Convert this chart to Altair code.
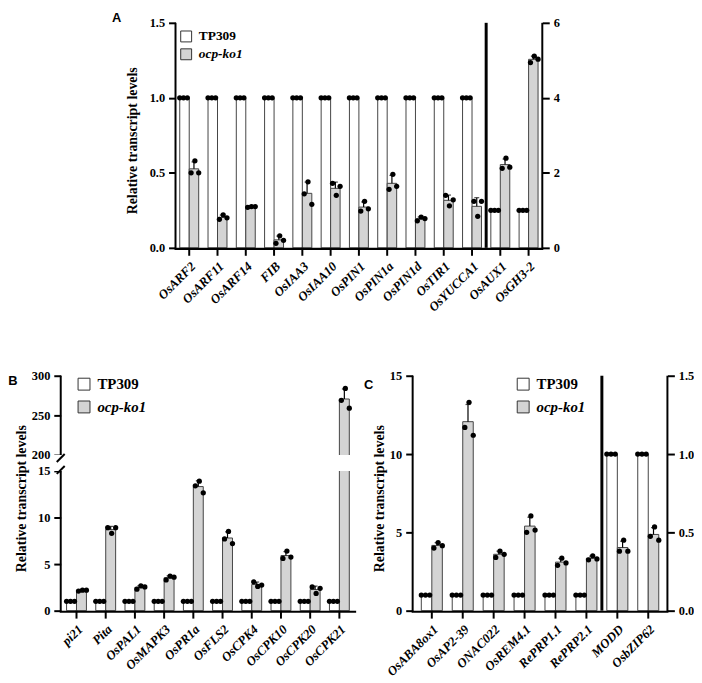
import altair as alt
import pandas as pd

SERIF = "Liberation Serif"
SANS = "Liberation Sans"

GENOTYPES = ["TP309", "ocp-ko1"]
BAR_FILLS = ["#ffffff", "#d4d4d4"]
REP_SLOTS = ["c1", "c2", "c3", "k1", "k2", "k3"]
CONTROL_REPS = [1.0, 1.0, 1.0]

# ---------------- Panel A ----------------
A_LEFT_GENES = ["OsARF2", "OsARF11", "OsARF14", "FIB", "OsIAA3", "OsIAA10",
                "OsPIN1", "OsPIN1a", "OsPIN1d", "OsTIR1", "OsYUCCA1"]
A_LEFT_KO = [[0.50, 0.58, 0.50], [0.19, 0.22, 0.20], [0.27, 0.275, 0.275],
             [0.03, 0.08, 0.05], [0.36, 0.44, 0.29], [0.43, 0.35, 0.41],
             [0.245, 0.31, 0.26], [0.39, 0.49, 0.41], [0.18, 0.205, 0.195],
             [0.35, 0.28, 0.32], [0.31, 0.21, 0.31]]
A_RIGHT_GENES = ["OsAUX1", "OsGH3-2"]
A_RIGHT_KO = [[2.12, 2.39, 2.15], [4.94, 5.11, 5.03]]
A_LEFT_TICKS = [0, 0.5, 1.0, 1.5]
A_RIGHT_TICKS = [0, 2, 4, 6]

# ---------------- Panel B ----------------
B_GENES = ["pi21", "Pita", "OsPAL1", "OsMAPK3", "OsPR1a", "OsFLS2",
           "OsCPK4", "OsCPK10", "OsCPK20", "OsCPK21"]
B_KO = [[2.1, 2.2, 2.2], [8.9, 8.3, 8.9], [2.3, 2.65, 2.55], [3.3, 3.7, 3.6],
        [13.4, 13.9, 12.65], [7.7, 8.5, 7.2], [3.1, 2.6, 2.75],
        [5.6, 6.4, 5.75], [2.55, 1.85, 2.4], [269, 284, 259]]
B_TICKS = [0, 5, 10, 15, 200, 250, 300]
B_SEGMENTS = [0, 15, 200, 300]

# ---------------- Panel C ----------------
C_LEFT_GENES = ["OsABA8ox1", "OsAP2-39", "ONAC022", "OsREM4.1", "RePRP1.1", "RePRP2.1"]
C_LEFT_KO = [[4.0, 4.35, 4.15], [11.7, 13.3, 11.2], [3.4, 3.8, 3.6],
             [5.0, 6.05, 5.15], [2.9, 3.35, 3.05], [3.25, 3.5, 3.3]]
C_RIGHT_GENES = ["MODD", "OsbZIP62"]
C_RIGHT_KO = [[0.38, 0.45, 0.38], [0.475, 0.535, 0.45]]
C_LEFT_TICKS = [0, 5, 10, 15]
C_RIGHT_TICKS = [0, 0.5, 1.0, 1.5]

YTITLE = "Relative transcript levels"
XTICK = 8          # length of x-axis tick marks (px)
ZPAD = XTICK + 2   # strip kept inside each view below the zero line
# the strip below zero is mapped to the domain [-1, 0]
TICK_END = -XTICK / ZPAD
LINE_END = -2.2 / ZPAD


def long_df(genes, ko_reps):
    rows = []
    for g, reps in zip(genes, ko_reps):
        for i, v in enumerate(CONTROL_REPS):
            rows.append({"gene": g, "geno": "TP309", "slot": REP_SLOTS[i], "value": v})
        for i, v in enumerate(reps):
            rows.append({"gene": g, "geno": "ocp-ko1", "slot": REP_SLOTS[3 + i], "value": v})
    return pd.DataFrame(rows)


def x_axis():
    return alt.Axis(title=None, orient="bottom", labelAngle=-45, labelAlign="right",
                    labelBaseline="top", labelFont=SERIF, labelFontSize=13,
                    labelFontWeight="bold", labelFontStyle="italic", labelColor="black",
                    labelPadding=XTICK + 4 - ZPAD, labelOverlap=False, domain=False,
                    ticks=False, grid=False)


def y_axis(values, fmt, orient, title, title_pad):
    kw = dict(values=values, format=fmt, orient=orient,
              labelFont=SERIF, labelFontSize=12.5, labelFontWeight="bold",
              labelColor="black", labelPadding=4, domain=False, ticks=True,
              tickSize=7, tickWidth=2, tickColor="black", grid=False,
              titleFont=SERIF, titleFontSize=14, titleFontWeight="bold",
              titleColor="black", titlePadding=title_pad)
    kw["title"] = title if title else None
    return alt.Axis(**kw)


def y_scale(points, H, stops=None):
    dom = [-1] + points
    rng = [H + ZPAD, H] + (stops if stops else []) + [0]
    return alt.Scale(domain=dom, range=rng, nice=False)


def legend(x, y, fs, sym, rowpad):
    return alt.Legend(title=None, orient="none", legendX=x, legendY=y,
                      direction="vertical", symbolType="square", symbolSize=sym,
                      symbolStrokeColor="#333333", symbolStrokeWidth=1,
                      symbolOpacity=1, labelFont=SERIF, labelFontSize=fs,
                      labelFontWeight="bold", labelColor="black",
                      labelFontStyle=alt.ExprRef(expr="datum.label == 'ocp-ko1' ? 'italic' : 'normal'"),
                      labelOffset=6, rowPadding=rowpad, padding=0)


def fill_enc(leg):
    return alt.Fill("geno:N", scale=alt.Scale(domain=GENOTYPES, range=BAR_FILLS), legend=leg)


def group_layers(df, X, yscale, yaxis, leg, shared_axis):
    other_axis = yaxis if shared_axis else None
    geno_off = alt.XOffset("geno:N", scale=alt.Scale(domain=GENOTYPES, paddingInner=0, paddingOuter=0))
    slot_off = alt.XOffset("slot:N", scale=alt.Scale(domain=REP_SLOTS, paddingInner=0, paddingOuter=0))
    base = alt.Chart(df)
    stats = base.transform_aggregate(
        mean="mean(value)", sd="stdev(value)", groupby=["gene", "geno"]
    ).transform_calculate(hi="datum.mean + datum.sd", zero="0")
    bars = stats.mark_bar(stroke="#444444", strokeWidth=1).encode(
        x=X, xOffset=geno_off, y=alt.Y("mean:Q", scale=yscale, axis=yaxis),
        y2="zero:Q", fill=fill_enc(leg))
    err = stats.mark_rule(color="black", strokeWidth=1.2).encode(
        x=X, xOffset=geno_off, y=alt.Y("mean:Q", scale=yscale, axis=other_axis), y2="hi:Q")
    cap = stats.mark_tick(color="black", thickness=1.2, size=5).encode(
        x=X, xOffset=geno_off, y=alt.Y("hi:Q", scale=yscale, axis=other_axis))
    pts = base.mark_circle(color="black", size=28, opacity=1).encode(
        x=X, xOffset=slot_off, y=alt.Y("value:Q", scale=yscale, axis=other_axis))
    return [bars, err, cap, pts]


def axis_lines(W, H, right):
    one = pd.DataFrame({"k": [0]})
    out = [alt.Chart(one).mark_rule(color="black", strokeWidth=2).encode(
        x=alt.value(0), y=alt.value(0), y2=alt.value(H + 1))]
    if right:
        out.append(alt.Chart(one).mark_rule(color="black", strokeWidth=2).encode(
            x=alt.value(W), y=alt.value(0), y2=alt.value(H + 1)))
    return out


def x_baseline(genes, X, W, yscale, yaxis):
    # x-axis line (a thin filled band just under zero) and tick marks under each gene
    band = alt.Chart(pd.DataFrame({"top": [0.0], "bot": [LINE_END]})).mark_rect(
        color="black").encode(x=alt.value(-1), x2=alt.value(W + 1),
                              y=alt.Y("top:Q", scale=yscale, axis=yaxis), y2="bot:Q")
    tdf = pd.DataFrame({"gene": genes, "top": [0.0] * len(genes),
                        "bot": [TICK_END] * len(genes)})
    ticks = alt.Chart(tdf).mark_bar(color="black", width=2).encode(
        x=X, y=alt.Y("top:Q", scale=yscale, axis=yaxis), y2="bot:Q")
    return [band, ticks]


def letter_layer(letter, lx, ly):
    return alt.Chart(pd.DataFrame({"t": [letter]})).mark_text(
        font=SANS, fontSize=13, fontWeight="bold", align="left", baseline="top",
        color="black").encode(text="t:N", x=alt.value(lx), y=alt.value(ly))


def spacer_layer(sx):
    return alt.Chart(pd.DataFrame({"t": ["."]})).mark_text(
        opacity=0, align="left", baseline="middle").encode(
        text="t:N", x=alt.value(sx), y=alt.value(0))


def split_panel(lgenes, lko, rgenes, rko, lmax, rmax, lticks, rticks, lfmt, rfmt,
                W, H, pi, po, leg, letter, lxy, tpad, extra):
    genes = lgenes + rgenes
    xscale = alt.Scale(domain=genes, paddingInner=pi, paddingOuter=po)
    X = alt.X("gene:N", scale=xscale, axis=x_axis(), sort=genes)
    left = group_layers(long_df(lgenes, lko), X, y_scale([0, lmax], H),
                        y_axis(lticks, lfmt, "left", YTITLE, tpad), leg, False)
    right = group_layers(long_df(rgenes, rko), X, y_scale([0, rmax], H),
                         y_axis(rticks, rfmt, "right", None, 4), leg, False)
    step = W / (len(genes) - pi + 2 * po)
    divider = alt.Chart(pd.DataFrame({"gene": [rgenes[0]]})).mark_rule(
        color="black", strokeWidth=3, xOffset=-pi * step / 2).encode(
        x=alt.X("gene:N", scale=xscale, axis=x_axis(), sort=genes, bandPosition=0),
        y=alt.value(0), y2=alt.value(H))
    layers = [*left, *right, divider, *axis_lines(W, H, True),
              *x_baseline(genes, X, W, y_scale([0, lmax], H), None),
              letter_layer(letter, *lxy)]
    if extra:
        layers.append(spacer_layer(W + extra))
    return alt.layer(*layers).resolve_scale(
        y="independent", xOffset="independent").properties(width=W, height=H + ZPAD)


# ---- Panel A
W_A, H_A = 370, 227
chart_a = split_panel(A_LEFT_GENES, A_LEFT_KO, A_RIGHT_GENES, A_RIGHT_KO,
                      1.5, 6, A_LEFT_TICKS, A_RIGHT_TICKS, ".1f", "d",
                      W_A, H_A, 0.33, 0.15, legend(4, 7, 13.5, 121, 2), "A", (-64, -11), 10, 34)

# ---- Panel C
W_C, H_C = 257, 237
chart_c = split_panel(C_LEFT_GENES, C_LEFT_KO, C_RIGHT_GENES, C_RIGHT_KO,
                      15, 1.5, C_LEFT_TICKS, C_RIGHT_TICKS, "d", ".1f",
                      W_C, H_C, 0.32, 0.28, legend(104, 1, 15, 144, 6), "C", (-49, 3), 3, 0)

# ---- Panel B (broken axis)
W_B, H_B = 297, 237
LOW_PX, GAP_PX = 141, 16
y15 = H_B - LOW_PX
y200 = y15 - GAP_PX
b_yscale = y_scale(B_SEGMENTS, H_B, [y15, y200])
b_yaxis = y_axis(B_TICKS, "d", "left", YTITLE, 3)
b_X = alt.X("gene:N", scale=alt.Scale(domain=B_GENES, paddingInner=0.32, paddingOuter=0.2),
            axis=x_axis(), sort=B_GENES)
b_layers = group_layers(long_df(B_GENES, B_KO), b_X, b_yscale, b_yaxis,
                        legend(16, 1, 15, 144, 6), True)
gap = alt.Chart(pd.DataFrame({"lo": [B_SEGMENTS[1]], "hi": [B_SEGMENTS[2]]})).mark_rect(
    color="white").encode(x=alt.value(-9), x2=alt.value(W_B),
                          y=alt.Y("lo:Q", scale=b_yscale, axis=b_yaxis), y2="hi:Q")
slash1 = alt.Chart(pd.DataFrame({"k": [0]})).mark_rule(color="black", strokeWidth=2).encode(
    x=alt.value(-4), x2=alt.value(4), y=alt.value(y200 + 7), y2=alt.value(y200 - 1))
slash2 = alt.Chart(pd.DataFrame({"k": [0]})).mark_rule(color="black", strokeWidth=2).encode(
    x=alt.value(-4), x2=alt.value(4), y=alt.value(y15 + 3), y2=alt.value(y15 - 5))
chart_b = alt.layer(*b_layers, *axis_lines(W_B, H_B, False), gap, slash1, slash2,
                    *x_baseline(B_GENES, b_X, W_B, b_yscale, b_yaxis),
                    letter_layer("B", -53, -1)).resolve_scale(
    xOffset="independent").properties(width=W_B, height=H_B + ZPAD)

bottom = alt.hconcat(chart_b, chart_c, spacing=8).resolve_scale(
    x="independent", y="independent", fill="independent").resolve_legend(fill="independent")

chart = alt.vconcat(chart_a, bottom, spacing=56, center=True).resolve_scale(
    x="independent", y="independent", fill="independent").resolve_legend(
    fill="independent").properties(padding={"top": 1, "left": 0, "right": 0, "bottom": 0}
                                   ).configure_view(strokeWidth=0)

chart.save("out.html", embed_options={"renderer": "svg", "actions": False})
